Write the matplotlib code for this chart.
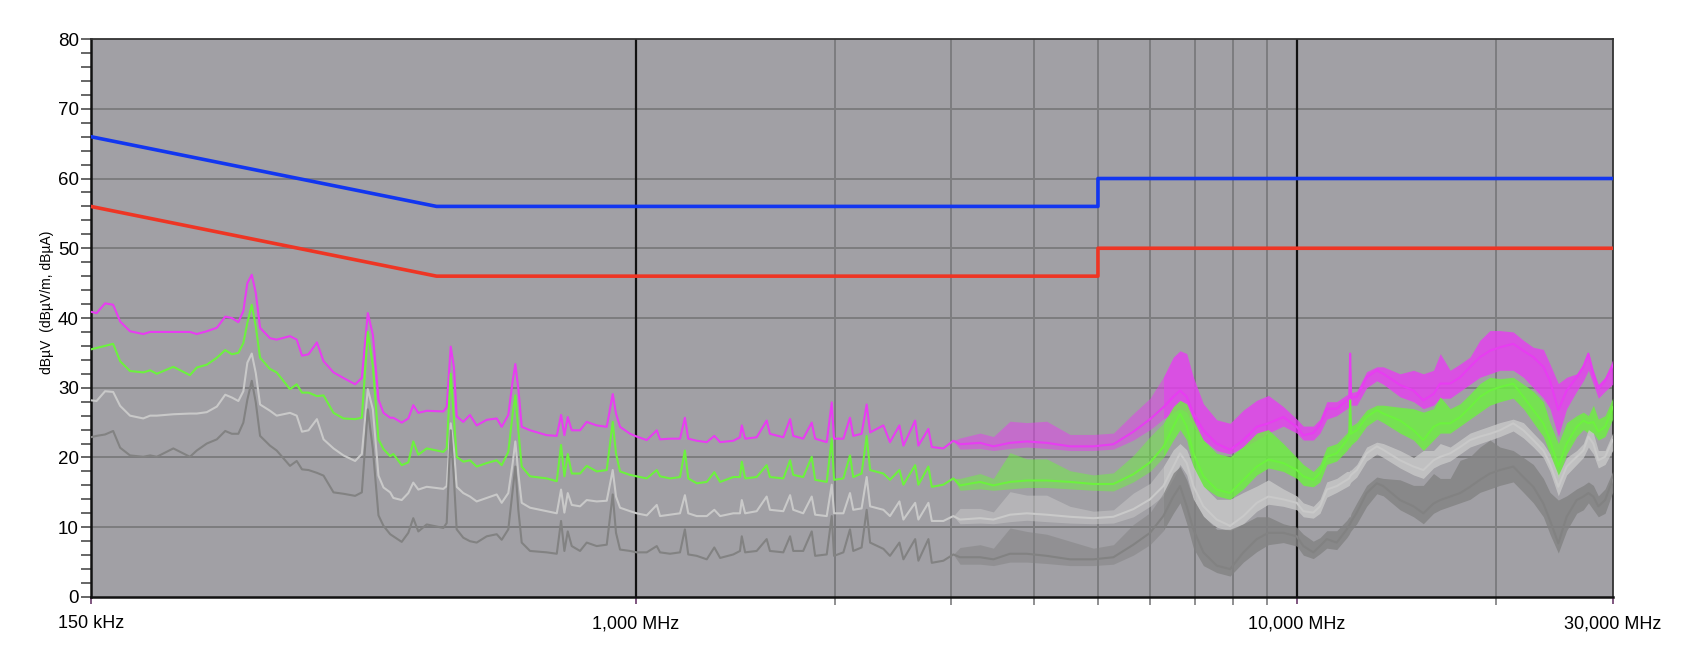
import matplotlib.pyplot as plt
from matplotlib.ticker import FixedLocator, NullFormatter

plt.rcParams['font.family'] = ['Liberation Sans', 'DejaVu Sans']

# scan frequencies in MHz
freq_scan = [
    0.150, 0.1531, 0.1577, 0.1622, 0.1662, 0.1720, 0.1801, 0.1845, 0.1888, 0.2000,
    0.2119, 0.2170, 0.2247, 0.2327, 0.2396, 0.2452, 0.2508, 0.2552, 0.2588, 0.2628,
    0.2665, 0.2705, 0.2800, 0.2866, 0.3002, 0.3073, 0.3130, 0.3202, 0.3297, 0.3374,
    0.3493, 0.3616, 0.3766, 0.3855, 0.3936, 0.4006, 0.4085, 0.4157, 0.4255,
    0.4302, 0.4429, 0.4532, 0.4611, 0.4693, 0.4832, 0.5120, 0.5180, 0.5253, 0.5313,
    0.5363, 0.5488, 0.5617, 0.5750, 0.5954, 0.6165, 0.6273, 0.6419, 0.6518, 0.6578,
    0.6647, 0.6726, 0.6924, 0.7338, 0.7599, 0.7713, 0.7803, 0.7895, 0.8006, 0.8240,
    0.8434, 0.8732, 0.9043, 0.9233, 0.9339, 0.9471, 0.9807, 1.0038, 1.0394, 1.0763,
    1.0887, 1.1273,
    1.167, 1.187, 1.201, 1.237, 1.281, 1.315, 1.342, 1.405, 1.438, 1.447,
    1.464, 1.524, 1.578, 1.596, 1.672, 1.712, 1.731, 1.792, 1.846, 1.868,
    1.945, 1.979, 1.995, 2.061, 2.109, 2.133, 2.196, 2.235, 2.262, 2.369,
    2.424, 2.505, 2.540, 2.646, 2.676, 2.771, 2.804, 2.919, 3.022,
]

# dense part of the scan (3 - 30 MHz), where the traces become a band
band_freq = [
    3.093, 3.317, 3.474, 3.681, 3.903, 4.183, 4.537, 4.921, 5.276, 5.656,
    5.994, 6.277, 6.500, 6.654, 6.811, 6.970, 7.217, 7.560, 7.920, 8.295,
    8.691, 9.048, 9.532, 9.989, 10.22, 10.58, 10.83, 11.09, 11.48, 11.89,
    11.99, 12.03, 12.07, 12.31, 12.74, 13.20, 13.50, 14.31, 15.00, 15.52,
    16.08, 16.46, 17.04, 17.64, 18.26, 18.90, 19.57, 20.26, 21.22, 21.99,
    22.76, 23.57, 24.12, 24.83, 25.56, 26.47, 27.09, 27.57, 28.05, 28.54,
    29.22, 30.0,
]

magenta_scan = [
    40.9, 40.7, 42.1, 41.9, 39.5, 38.1, 37.7, 38.0, 38.0, 38.0,
    38.0, 37.7, 38.1, 38.6, 40.2, 40.0, 39.4, 41.0, 45.0, 46.2,
    43.6, 38.6, 37.1, 36.9, 37.4, 36.9, 34.6, 34.8, 36.5, 33.8,
    32.2, 31.4, 30.5, 31.4, 40.7, 37.6, 28.3, 26.4, 25.7,
    25.7, 25.0, 25.6, 27.5, 26.4, 26.7, 26.6, 27.2, 35.9, 32.9,
    25.9, 25.1, 26.1, 24.6, 25.4, 25.6, 24.4, 26.1, 31.0, 33.4,
    29.9, 24.4, 23.9, 23.2, 23.1, 26.1, 23.2, 25.8, 23.9, 23.9,
    25.1, 24.6, 24.4, 29.1, 26.3, 24.4, 23.4, 23.0, 22.5, 23.9,
    22.6, 22.7,
    22.7, 25.7, 22.7, 22.4, 22.2, 23.1, 22.2, 22.4, 22.9, 24.6,
    22.7, 22.9, 25.3, 23.4, 22.9, 25.5, 23.1, 22.7, 25.0, 22.7,
    22.2, 27.9, 22.7, 22.7, 25.7, 23.1, 23.4, 27.6, 23.6, 24.6,
    22.2, 24.6, 21.7, 25.3, 21.7, 24.1, 21.5, 21.3, 22.4,
]
magenta_band = [
    21.9, 22.1, 21.6, 22.1, 22.3, 22.1, 21.6, 21.6, 21.9, 23.7,
    25.5, 27.2, 28.7, 29.6, 28.7, 26.3, 23.9, 22.0, 21.1, 22.5,
    24.4, 24.9, 25.8, 24.4, 23.2, 23.5, 24.7, 27.0, 27.0, 28.2,
    28.4, 34.9, 28.6, 28.7, 31.5, 32.5, 32.0, 30.4, 29.6, 28.2,
    29.1, 30.6, 30.6, 31.5, 33.0, 34.4, 35.3, 35.8, 36.3, 35.3,
    34.4, 33.0, 31.0, 26.8, 29.6, 31.5, 33.0, 34.9, 32.0, 29.9,
    31.0, 33.2,
]
magenta_hi = [
    22.8, 23.5, 23.0, 25.2, 25.0, 25.2, 23.3, 23.3, 23.5, 26.3,
    28.5, 31.5, 34.4, 35.3, 34.9, 31.5, 27.7, 25.4, 24.9, 26.8,
    28.2, 28.9, 27.3, 25.5, 24.5, 24.5, 25.5, 28.0, 28.0, 29.0,
    29.0, 34.9, 29.3, 29.5, 32.3, 33.0, 33.0, 32.0, 32.5, 32.0,
    32.5, 34.9, 32.5, 33.4, 34.4, 36.8, 38.2, 38.2, 38.0, 36.8,
    35.8, 35.5, 33.4, 30.6, 31.5, 32.0, 33.5, 35.0, 32.5, 30.5,
    31.5, 34.0,
]
magenta_lo = [
    21.2, 21.3, 21.0, 21.3, 21.5, 21.3, 21.0, 21.0, 21.2, 22.5,
    24.0, 25.5, 26.5, 27.0, 26.5, 24.5, 22.5, 21.0, 20.5, 21.5,
    22.5, 23.5, 24.5, 23.5, 22.5, 22.5, 23.5, 25.5, 26.0, 27.0,
    27.3, 27.5, 27.5, 27.5, 30.0, 31.0, 30.5, 28.7, 28.0, 27.0,
    27.5, 28.5, 28.5, 29.5, 30.5, 31.5, 32.0, 32.5, 32.5, 31.5,
    30.0, 28.5, 27.0, 23.0, 27.0, 29.5, 31.0, 32.5, 30.5, 28.5,
    29.5, 30.5,
]

green_scan = [
    35.5, 35.7, 36.0, 36.3, 33.8, 32.4, 32.2, 32.5, 32.0, 33.0,
    31.8, 32.9, 33.3, 34.3, 35.4, 34.8, 35.0, 36.4, 39.3, 41.9,
    38.8, 34.3, 32.7, 32.2, 29.8, 30.5, 29.3, 29.3, 28.8, 28.9,
    26.4, 25.6, 25.5, 25.7, 38.0, 33.1, 22.6, 21.2, 20.2,
    20.5, 18.9, 19.3, 22.3, 20.4, 21.3, 20.8, 21.3, 32.0, 25.5,
    20.1, 19.4, 19.6, 18.7, 19.2, 19.6, 18.9, 20.8, 26.3, 28.9,
    23.9, 18.7, 17.3, 17.0, 16.6, 21.8, 17.3, 20.5, 17.7, 17.7,
    18.8, 18.0, 18.2, 25.1, 20.6, 18.0, 17.5, 17.3, 17.0, 18.2,
    17.3, 17.0,
    17.2, 21.0, 17.0, 16.3, 16.5, 17.9, 16.5, 17.2, 17.2, 19.4,
    17.0, 17.2, 18.9, 17.2, 17.0, 19.6, 17.5, 17.2, 20.1, 16.8,
    16.5, 22.7, 16.8, 17.0, 20.3, 17.2, 17.7, 23.1, 18.2, 17.7,
    16.8, 18.2, 16.1, 18.9, 16.1, 18.7, 15.8, 16.1, 17.0,
]
green_band = [
    16.0, 16.5, 16.0, 16.5, 16.7, 16.7, 16.5, 16.2, 16.2, 17.6,
    19.3, 21.5, 24.4, 26.3, 24.4, 20.6, 17.3, 15.4, 14.9, 16.8,
    18.7, 19.7, 19.2, 18.2, 17.3, 16.8, 17.8, 20.1, 20.6, 22.5,
    23.2, 28.2, 23.4, 23.9, 25.8, 26.8, 26.3, 25.3, 23.9, 22.5,
    24.4, 24.9, 24.9, 25.8, 27.2, 28.7, 29.6, 30.1, 30.6, 28.7,
    26.8, 24.9, 22.5, 18.7, 22.0, 24.4, 25.3, 24.9, 25.1, 23.7,
    24.4, 27.2,
]
green_hi = [
    17.0, 17.7, 17.0, 20.7, 19.8, 19.8, 18.1, 17.5, 17.8, 20.3,
    23.0, 24.9, 27.3, 28.2, 27.7, 25.4, 22.5, 20.6, 20.1, 21.6,
    23.5, 24.0, 22.0, 20.0, 19.0, 18.0, 19.0, 21.5, 22.0, 23.5,
    24.0, 28.2, 24.5, 25.0, 26.8, 27.5, 27.5, 27.2, 27.0, 26.5,
    27.0, 28.7, 27.0, 27.7, 29.1, 30.6, 31.5, 31.3, 31.5, 30.5,
    29.5, 28.0, 25.0, 22.0, 25.0, 26.0, 26.5, 26.0, 27.5, 25.5,
    26.0, 28.5,
]
green_lo = [
    15.3, 15.5, 15.3, 15.5, 15.7, 15.7, 15.5, 15.3, 15.2, 16.5,
    18.0, 20.0, 22.5, 24.0, 22.5, 18.5, 15.8, 14.5, 14.0, 15.5,
    17.5, 18.5, 18.0, 17.0, 16.0, 15.8, 16.5, 19.0, 19.5, 21.0,
    21.5, 21.5, 21.8, 22.5, 24.5, 25.5, 25.0, 23.5, 22.5, 21.0,
    22.5, 23.5, 23.5, 24.5, 25.5, 26.5, 27.5, 28.0, 28.5, 27.0,
    25.0, 23.0, 20.5, 17.0, 20.5, 23.0, 24.0, 23.5, 23.5, 22.5,
    23.0, 25.5,
]

lightgray_scan = [
    28.2, 28.1, 29.5, 29.4, 27.4, 26.0, 25.6, 26.0, 26.0, 26.2,
    26.3, 26.3, 26.5, 27.3, 29.0, 28.6, 28.1, 29.5, 33.6, 34.9,
    32.1, 27.6, 26.7, 26.0, 26.4, 26.0, 23.7, 23.9, 25.5, 22.6,
    21.3, 20.3, 19.5, 20.5, 29.8, 26.9, 17.4, 15.7, 15.0,
    14.2, 13.9, 14.9, 16.4, 15.4, 15.8, 15.5, 15.9, 24.9, 21.1,
    15.8, 14.9, 14.4, 13.7, 14.2, 14.7, 13.5, 14.9, 19.2, 22.3,
    17.7, 13.5, 12.8, 12.3, 12.0, 15.4, 12.1, 14.9, 13.2, 13.0,
    13.9, 13.7, 13.8, 18.2, 14.4, 12.8, 12.3, 12.0, 11.7, 13.2,
    11.6, 11.8,
    12.0, 14.6, 12.0, 11.6, 11.6, 12.5, 11.6, 12.0, 12.0, 13.9,
    12.0, 12.3, 14.4, 12.5, 12.3, 14.6, 12.5, 12.0, 14.4, 11.8,
    11.6, 16.1, 12.0, 12.0, 14.9, 12.5, 12.7, 17.2, 13.0, 12.5,
    11.6, 13.7, 11.1, 13.5, 11.1, 13.5, 10.9, 10.9, 11.6,
]
lightgray_band = [
    11.1, 11.3, 11.1, 11.8, 12.0, 11.8, 11.5, 11.3, 11.5, 12.6,
    14.0, 15.9, 18.7, 20.6, 19.2, 15.9, 13.0, 11.1, 10.2, 11.6,
    13.5, 14.4, 14.0, 13.5, 12.3, 12.1, 13.0, 15.4, 15.9, 16.8,
    17.0, 17.3, 17.5, 18.2, 20.6, 21.6, 21.1, 19.6, 18.7, 18.2,
    19.6, 20.1, 20.6, 21.5, 22.5, 23.0, 23.4, 23.9, 24.9, 23.9,
    22.5, 21.0, 19.1, 15.8, 18.7, 20.1, 21.0, 23.0, 22.0, 19.6,
    20.1, 22.5,
]
lightgray_hi = [
    12.7, 12.7, 12.2, 15.1, 14.6, 14.6, 13.0, 12.3, 12.5, 14.9,
    16.3, 18.7, 21.1, 22.0, 21.1, 18.7, 15.9, 14.0, 14.0, 15.0,
    15.9, 16.8, 15.5, 14.5, 13.5, 13.0, 14.0, 16.5, 17.0, 18.0,
    18.0, 18.2, 18.2, 19.0, 21.5, 22.2, 22.0, 21.0, 20.0, 21.0,
    21.0, 22.0, 21.5, 22.5, 23.5, 24.0, 24.5, 25.0, 25.5, 25.0,
    23.5, 22.0, 20.5, 17.5, 20.0, 21.0, 22.0, 24.0, 23.5, 21.0,
    21.0, 23.5,
]
lightgray_lo = [
    10.5, 10.6, 10.5, 10.8, 11.0, 10.8, 10.6, 10.5, 10.6, 11.5,
    13.0, 14.5, 17.0, 19.0, 17.5, 14.0, 11.5, 10.0, 9.5, 10.5,
    12.3, 13.3, 13.0, 12.5, 11.5, 11.3, 12.0, 14.3, 15.0, 15.8,
    16.0, 16.3, 16.5, 17.2, 19.5, 20.5, 20.0, 18.5, 17.5, 17.0,
    18.5, 19.0, 19.5, 20.5, 21.5, 22.0, 22.5, 23.0, 23.8, 22.8,
    21.5, 20.0, 18.0, 14.5, 17.5, 19.0, 20.0, 21.5, 20.5, 18.5,
    19.0, 21.0,
]

darkgray_scan = [
    22.9, 23.1, 23.3, 23.8, 21.4, 20.3, 20.1, 20.3, 20.1, 21.3,
    20.1, 21.0, 22.0, 22.6, 23.8, 23.4, 23.4, 25.0, 28.3, 31.0,
    27.9, 23.1, 21.7, 21.0, 18.8, 19.5, 18.3, 18.2, 17.8, 17.4,
    15.0, 14.8, 14.5, 15.0, 26.9, 21.2, 11.7, 10.2, 9.0,
    8.7, 7.9, 9.2, 11.3, 9.4, 10.4, 9.9, 10.6, 23.9, 16.8,
    9.7, 8.5, 8.0, 7.8, 8.7, 9.0, 8.2, 9.7, 15.4, 18.7,
    12.5, 7.8, 6.6, 6.4, 6.2, 10.9, 6.6, 9.4, 7.3, 6.6,
    7.8, 7.3, 7.5, 14.7, 9.2, 6.8, 6.6, 6.4, 6.4, 7.3,
    6.4, 6.2,
    6.4, 9.7, 6.1, 5.9, 5.4, 7.1, 5.6, 6.1, 6.6, 8.7,
    6.4, 6.6, 8.3, 6.6, 6.4, 8.7, 6.6, 6.6, 9.4, 5.9,
    6.1, 11.6, 5.9, 6.4, 9.7, 6.6, 7.1, 12.5, 7.8, 6.9,
    5.9, 7.8, 5.4, 8.3, 5.2, 8.3, 4.9, 5.2, 6.1,
]
darkgray_band = [
    5.7, 5.7, 5.4, 6.2, 6.2, 5.9, 5.4, 5.4, 5.7, 7.5,
    9.2, 11.6, 14.4, 15.9, 13.0, 9.7, 6.4, 4.5, 4.0, 6.4,
    8.3, 9.2, 9.2, 8.7, 7.3, 6.4, 7.3, 8.3, 7.8, 9.7,
    10.3, 10.5, 10.8, 12.1, 14.9, 16.3, 15.9, 13.9, 13.0, 12.0,
    13.4, 13.9, 14.4, 14.9, 15.8, 16.8, 17.7, 18.2, 18.7, 17.2,
    15.8, 13.4, 11.0, 7.7, 11.5, 13.9, 14.4, 14.9, 14.4, 13.0,
    13.9, 16.8,
]
darkgray_hi = [
    7.1, 7.5, 7.0, 9.9, 9.4, 9.0, 8.0, 7.0, 7.5, 10.4,
    12.1, 14.9, 17.8, 18.7, 16.8, 14.0, 11.6, 9.7, 9.7, 10.5,
    11.5, 11.5, 10.5, 10.0, 9.0, 8.0, 8.5, 9.5, 9.5, 11.0,
    11.5, 11.5, 12.0, 13.5, 16.0, 17.2, 17.0, 16.8, 16.0, 16.0,
    17.7, 17.0, 17.0, 19.6, 20.1, 21.5, 22.5, 21.5, 21.0, 20.0,
    19.0, 17.0, 15.0, 13.9, 14.5, 15.5, 16.0, 16.5, 16.0, 14.5,
    15.5, 18.0,
]
darkgray_lo = [
    4.7, 4.7, 4.5, 5.0, 5.0, 4.8, 4.5, 4.5, 4.7, 6.0,
    7.5, 9.5, 12.0, 13.5, 10.5, 7.0, 4.5, 3.5, 3.0, 5.0,
    6.5, 7.5, 7.8, 7.3, 6.0, 5.5, 6.2, 7.0, 6.8, 8.5,
    9.0, 9.3, 9.5, 10.5, 13.0, 14.8, 14.5, 12.5, 11.5, 10.5,
    12.0, 12.5, 13.0, 13.5, 14.0, 15.0, 15.5, 16.0, 16.5, 15.0,
    13.5, 11.5, 9.0, 6.3, 9.5, 12.0, 12.5, 13.5, 12.5, 11.5,
    12.0, 15.0,
]

# conducted emission limits (QP and AV)
limit_freq = [0.15, 0.5, 5.0, 5.0, 30.0]
qp_limit = [66, 56, 56, 60, 60]
av_limit = [56, 46, 46, 50, 50]

x_ticks = [0.15, 1, 10, 30]
x_labels = ['150 kHz', '1,000 MHz', '10,000 MHz', '30,000 MHz']
x_minor = [2, 3, 4, 5, 6, 7, 8, 9, 20]

fig = plt.figure(figsize=(16.92, 6.68), dpi=100)
ax = fig.add_axes([0.0536, 0.1063, 0.8995, 0.8353])
ax.set_facecolor('#a1a0a5')
ax.set_xscale('log')

traces = [
    (magenta_scan, magenta_band, magenta_lo, magenta_hi, '#e83cf2'),
    (green_scan, green_band, green_lo, green_hi, '#6cf23e'),
    (lightgray_scan, lightgray_band, lightgray_lo, lightgray_hi, '#c9c9c9'),
    (darkgray_scan, darkgray_band, darkgray_lo, darkgray_hi, '#828282'),
]
split = 11  # spikes are sparse below ~6 MHz, dense above
for i, (scan, band, lo, hi, col) in enumerate(traces):
    z = 3 + i
    bf = [freq_scan[-1]] + band_freq
    blo = [scan[-1]] + lo
    bhi = [scan[-1]] + hi
    ax.fill_between(bf[:split + 2], blo[:split + 2], bhi[:split + 2],
                    color=col, alpha=0.5, lw=0, zorder=z)
    ax.fill_between(bf[split + 1:], blo[split + 1:], bhi[split + 1:],
                    color=col, alpha=0.8, lw=0, zorder=z)
    ax.plot(freq_scan + band_freq, scan + band, color=col, lw=1.5, zorder=z)

ax.plot(limit_freq, qp_limit, color='#1236f0', lw=2.6, zorder=8)
ax.plot(limit_freq, av_limit, color='#ee3524', lw=2.6, zorder=8)

ax.set_xlim(0.15, 30)
ax.set_ylim(0, 80)

# grid
for y in range(10, 80, 10):
    ax.axhline(y, color='#7a7a7c', lw=1.3, zorder=1)
for f in x_minor:
    ax.axvline(f, color='#7d7d7f', lw=1.4, zorder=1)
for f in [1, 10]:
    ax.axvline(f, color='#111111', lw=1.6, zorder=2)

ax.xaxis.set_major_locator(FixedLocator(x_ticks))
ax.set_xticklabels(x_labels)
ax.xaxis.set_minor_locator(FixedLocator(x_minor))
ax.xaxis.set_minor_formatter(NullFormatter())
ax.tick_params(axis='x', which='major', length=5, width=1.2, color='#6a3a6a',
               pad=8, labelsize=13)
ax.tick_params(axis='x', which='minor', length=6, width=1.2, color='#7d7d7f')

ax.set_yticks(range(0, 81, 10))
ax.set_yticks(range(0, 81, 2), minor=True)
ax.tick_params(axis='y', which='both', length=7, width=1.3, color='#5a5a5a',
               pad=1.5, labelsize=13.5)

for s in ['left', 'bottom']:
    ax.spines[s].set_color('#111111')
    ax.spines[s].set_linewidth(1.8)
for s in ['top', 'right']:
    ax.spines[s].set_color('#333333')
    ax.spines[s].set_linewidth(1.3)

fig.text(47 / 1692, 1 - 302 / 668, 'dBµV  (dBµV/m, dBµA)', rotation=90,
         ha='center', va='center', fontsize=10)

fig.savefig('out.png', dpi=100, facecolor='white')
